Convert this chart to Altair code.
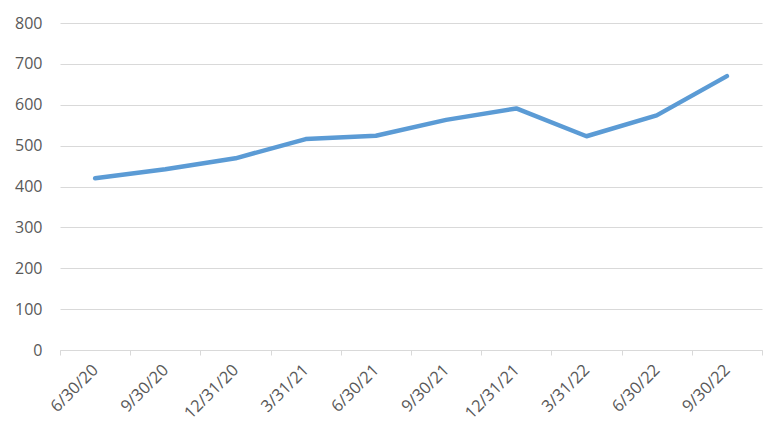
import altair as alt
import pandas as pd

dates = ["6/30/20", "9/30/20", "12/31/20", "3/31/21", "6/30/21",
         "9/30/21", "12/31/21", "3/31/22", "6/30/22", "9/30/22"]
values = [420, 442, 469, 516, 524, 563, 591, 523, 574, 670]

df = pd.DataFrame({"date": dates, "value": values})

FONT = "Open Sans"
TXT = "#595959"
GRID = "#d9d9d9"

chart = alt.Chart(df).mark_line(
    color="#5B9BD5", strokeWidth=4.5, strokeCap="round", strokeJoin="round"
).encode(
    x=alt.X("date:N", sort=dates, title=None,
            scale=alt.Scale(type="band", paddingInner=0, paddingOuter=0),
            bandPosition=0.5,
            axis=alt.Axis(labelAngle=-45, labelAlign="right", labelBaseline="middle",
                          labelPadding=12, tickBand="extent", tickSize=5,
                          tickColor=GRID, domainColor=GRID, labelColor=TXT,
                          labelFont=FONT, labelFontSize=16.5, grid=False)),
    y=alt.Y("value:Q", title=None,
            scale=alt.Scale(domain=[0, 800], nice=False),
            axis=alt.Axis(values=list(range(0, 801, 100)), domain=False, ticks=False,
                          labelPadding=18, gridColor=GRID, gridWidth=1.2,
                          labelColor=TXT, labelFont=FONT, labelFontSize=16))
).properties(
    width=702, height=327,
    background="white",
    autosize=alt.AutoSizeParams(type="none"),
    padding={"left": 52, "top": 15, "right": 7, "bottom": 88},
).configure_view(strokeWidth=0, stroke="transparent")

chart.save("out.html", embed_options={"renderer": "svg", "actions": False})
